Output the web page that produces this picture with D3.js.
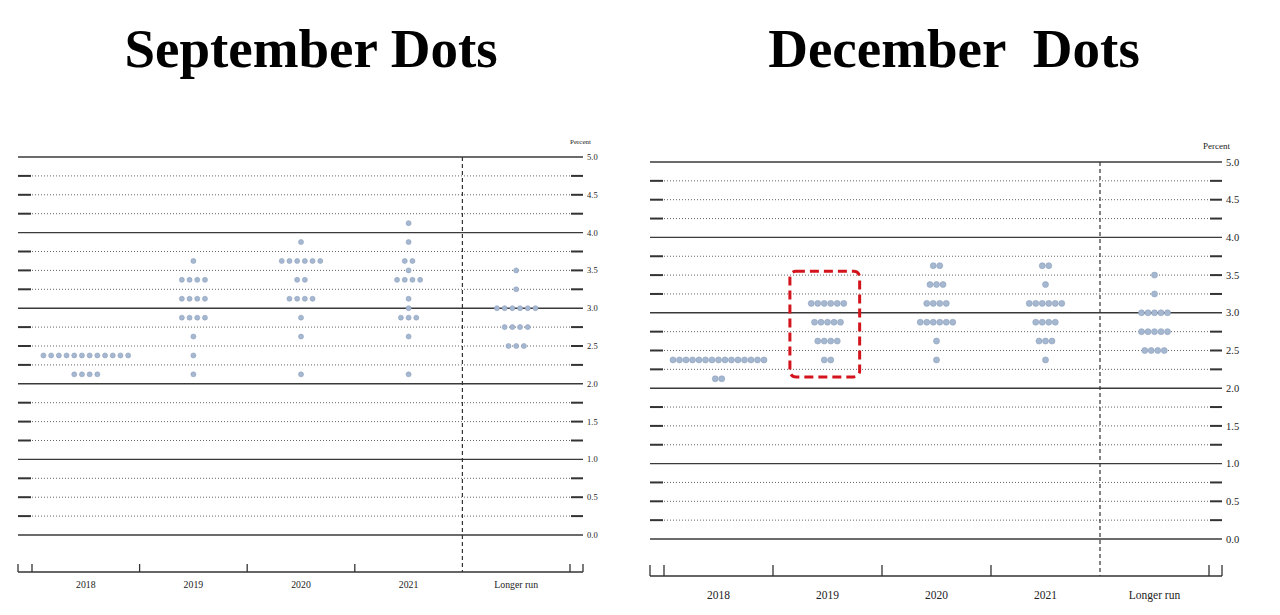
<!DOCTYPE html>
<meta charset="utf-8">
<style>
body { margin: 0; background: #fff; }
.title { font-family: "Liberation Serif", serif; font-weight: bold; white-space: pre; }
.small { font-family: "Liberation Serif", "DejaVu Serif", serif; fill: #222; }
.intline { stroke: #3a3a3a; stroke-width: 1.4; }
.dotline { stroke: #555; stroke-width: 0.9; stroke-dasharray: 1,2; }
.stub { stroke: #333; stroke-width: 2; }
.axis { stroke: #333; stroke-width: 1.3; fill: none; }
.divider { stroke: #333; stroke-width: 1.2; stroke-dasharray: 4,3; }
.dot { fill: #a6b8d0; stroke: #8c9fbd; stroke-width: 0.6; }
</style>
<body>
<svg width="1280" height="615"></svg>
<script src="https://cdnjs.cloudflare.com/ajax/libs/d3/7.8.5/d3.min.js"></script>
<script>

// columns and y ticks
var categories = ["2018", "2019", "2020", "2021", "Longer run"];
var gridValues = d3.range(0, 21).map(function(i) { return i * 0.25; });
var tickLabels = [0, 0.5, 1, 1.5, 2, 2.5, 3, 3.5, 4, 4.5, 5];

// September projections: column, rate (midpoint), number of participants
var septYear  = ["2018","2018",
                 "2019","2019","2019","2019","2019","2019","2019",
                 "2020","2020","2020","2020","2020","2020","2020",
                 "2021","2021","2021","2021","2021","2021","2021","2021","2021","2021",
                 "Longer run","Longer run","Longer run","Longer run","Longer run"];
var septRate  = [2.375, 2.125,
                 3.625, 3.375, 3.125, 2.875, 2.625, 2.375, 2.125,
                 3.875, 3.625, 3.375, 3.125, 2.875, 2.625, 2.125,
                 4.125, 3.875, 3.625, 3.5, 3.375, 3.125, 3.0, 2.875, 2.625, 2.125,
                 3.5, 3.25, 3.0, 2.75, 2.5];
var septCount = [12, 4,
                 1, 4, 4, 4, 1, 1, 1,
                 1, 6, 2, 4, 1, 1, 1,
                 1, 1, 2, 1, 4, 1, 1, 3, 1, 1,
                 1, 1, 6, 4, 3];

// December projections
var decYear  = ["2018","2018",
                "2019","2019","2019","2019",
                "2020","2020","2020","2020","2020","2020",
                "2021","2021","2021","2021","2021","2021",
                "Longer run","Longer run","Longer run","Longer run","Longer run"];
var decRate  = [2.375, 2.125,
                3.125, 2.875, 2.625, 2.375,
                3.625, 3.375, 3.125, 2.875, 2.625, 2.375,
                3.625, 3.375, 3.125, 2.875, 2.625, 2.375,
                3.5, 3.25, 3.0, 2.75, 2.5];
var decCount = [15, 2,
                6, 5, 4, 2,
                2, 3, 4, 6, 1, 1,
                2, 1, 6, 4, 3, 1,
                1, 1, 5, 5, 4];

// highlighted column in December
var highlightYear = "2019";
var highlightRange = [2.15, 3.55];

var svg = d3.select("svg");

function panel(opt, years, rates, counts) {
  var g = svg.append("g");

  var x = d3.scaleBand().domain(categories).range([opt.x1, opt.x2]);
  var y = d3.scaleLinear().domain([0, 5]).range([opt.y0, opt.y5]);

  g.append("text").attr("class", "title")
      .attr("x", opt.titleX).attr("y", 67)
      .attr("text-anchor", "middle")
      .style("font-size", "55px")
      .text(opt.title);

  // horizontal grid
  gridValues.forEach(function(v) {
    if (v % 1 === 0) {
      g.append("line").attr("class", "intline")
          .attr("x1", opt.x0).attr("x2", opt.x3)
          .attr("y1", y(v)).attr("y2", y(v));
    } else {
      g.append("line").attr("class", "dotline")
          .attr("x1", opt.x1).attr("x2", opt.x2)
          .attr("y1", y(v)).attr("y2", y(v));
      g.append("line").attr("class", "stub")
          .attr("x1", opt.x0).attr("x2", opt.x1 - 1)
          .attr("y1", y(v)).attr("y2", y(v));
      g.append("line").attr("class", "stub")
          .attr("x1", opt.x2 + 1).attr("x2", opt.x3)
          .attr("y1", y(v)).attr("y2", y(v));
    }
  });

  g.selectAll(".ylab").data(tickLabels).enter().append("text")
      .attr("class", "small")
      .attr("x", opt.x3 + 4).attr("y", function(d) { return y(d); })
      .attr("dy", "0.35em")
      .style("font-size", opt.fsY + "px")
      .text(function(d) { return d3.format(".1f")(d); });

  g.append("text").attr("class", "small")
      .attr("x", opt.x3 + 8).attr("y", opt.y5 - 13)
      .attr("text-anchor", "end")
      .style("font-size", opt.fsP + "px")
      .text("Percent");

  // longer run divider
  var xd = x("Longer run");
  g.append("line").attr("class", "divider")
      .attr("x1", xd).attr("x2", xd)
      .attr("y1", opt.y5).attr("y2", opt.axisY);

  // bottom axis
  g.append("line").attr("class", "axis")
      .attr("x1", opt.x0).attr("x2", opt.x3)
      .attr("y1", opt.axisY).attr("y2", opt.axisY);
  var tx = [opt.x0, opt.x1, opt.x3, opt.x2];
  categories.slice(1).forEach(function(c) { if (c !== "Longer run") tx.push(x(c)); });
  tx.forEach(function(t) {
    g.append("line").attr("class", "axis")
        .attr("x1", t).attr("x2", t)
        .attr("y1", opt.axisY).attr("y2", opt.axisY - opt.tick);
  });

  g.selectAll(".xlab").data(categories).enter().append("text")
      .attr("class", "small")
      .attr("x", function(d) { return x(d) + x.bandwidth() / 2; })
      .attr("y", opt.axisY + opt.labelGap)
      .attr("text-anchor", "middle")
      .style("font-size", opt.fsX + "px")
      .text(function(d) { return d; });

  // dots
  var dots = [];
  years.forEach(function(yr, i) {
    var n = counts[i];
    for (var k = 0; k < n; k++) {
      dots.push({year: yr, rate: rates[i], off: (k - (n - 1) / 2) * opt.step});
    }
  });
  g.selectAll(".dot").data(dots).enter().append("circle")
      .attr("class", "dot")
      .attr("cx", function(d) { return x(d.year) + x.bandwidth() / 2 + d.off; })
      .attr("cy", function(d) { return y(d.rate); })
      .attr("r", opt.r);

  return {g: g, x: x, y: y};
}

var sep = panel({title: "September Dots", titleX: 311,
                 x0: 18, x1: 32, x2: 570, x3: 583, y0: 535, y5: 157,
                 axisY: 572, tick: 8, labelGap: 16, fsX: 9.8, fsY: 8.5, fsP: 7,
                 step: 7.7, r: 2.5},
                septYear, septRate, septCount);

var dec = panel({title: "December  Dots", titleX: 954,
                 x0: 650, x1: 664, x2: 1209, x3: 1222, y0: 539, y5: 162,
                 axisY: 576, tick: 11, labelGap: 23, fsX: 11.5, fsY: 10.5, fsP: 9,
                 step: 6.5, r: 3},
                decYear, decRate, decCount);

// red dashed highlight box
var bx = dec.x(highlightYear) + dec.x.bandwidth() * 0.155;
dec.g.append("rect")
    .attr("x", bx)
    .attr("y", dec.y(highlightRange[1]))
    .attr("width", dec.x.bandwidth() * 0.64)
    .attr("height", dec.y(highlightRange[0]) - dec.y(highlightRange[1]))
    .attr("rx", 6)
    .attr("fill", "none")
    .attr("stroke", "#d3141c")
    .attr("stroke-width", 3)
    .attr("stroke-dasharray", "9,5");

</script>
</body>
